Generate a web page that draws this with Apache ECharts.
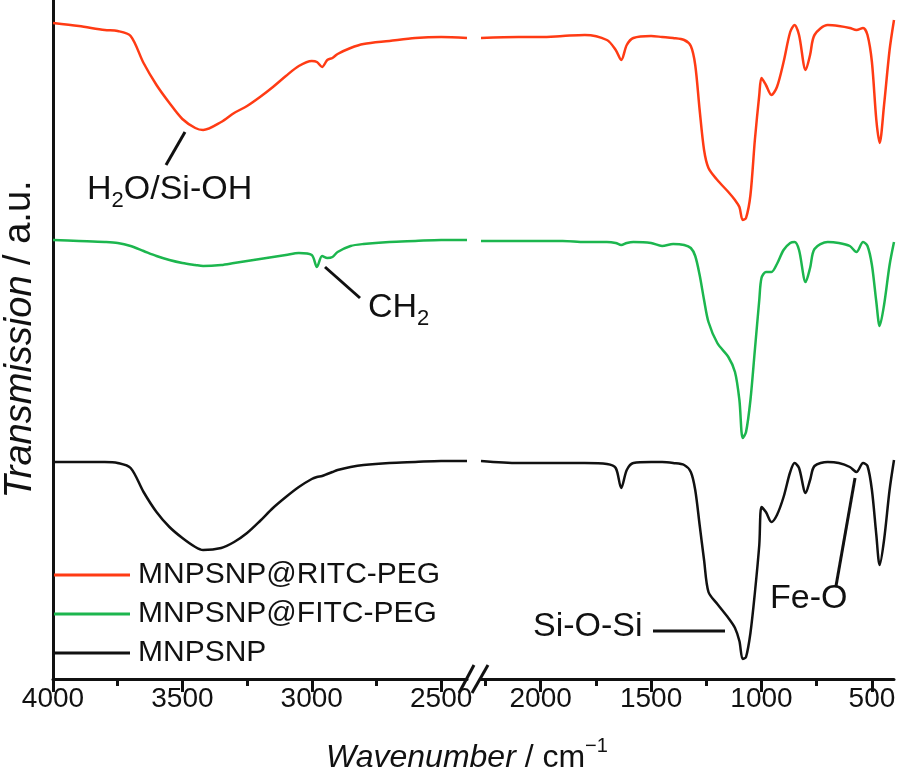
<!DOCTYPE html>
<html>
<head>
<meta charset="utf-8">
<title>FTIR spectra</title>
<script src="https://cdn.jsdelivr.net/npm/echarts@6/dist/echarts.min.js"></script>
<style>
  html, body { margin: 0; padding: 0; background: #fff; }
  #chart { width: 898px; height: 780px; }
</style>
</head>
<body>
<div id="chart"></div>
<script>
// wavenumbers (cm-1), 4000-2400 on the left part, 2270-400 after the axis break
var wavenumbers = [4000, 3900, 3800, 3750, 3700, 3650, 3600, 3550, 3500, 3450,
  3420, 3350, 3300, 3250, 3200, 3150, 3100, 3050, 3000, 2980,
  2960, 2940, 2920, 2900, 2850, 2800, 2700, 2600, 2500, 2400,
  2270, 2100, 2000, 1900, 1800, 1700, 1660, 1635, 1610, 1580,
  1500, 1450, 1400, 1350, 1320, 1300, 1280, 1260, 1240, 1200,
  1150, 1120, 1100, 1085, 1070, 1050, 1030, 1010, 1000, 980,
  955, 930, 900, 870, 850, 830, 800, 780, 760, 700,
  650, 600, 570, 540, 520, 500, 480, 465, 445, 420,
  400]

// transmission, a.u. (curves stacked with an offset)
var ritcPeg = [65.6, 65.3, 64.9, 64.8, 64.3, 61.6, 59.4, 57.6, 56.0, 55.1,
  54.9, 55.7, 56.6, 57.3, 58.2, 59.2, 60.3, 61.3, 61.8, 61.7,
  61.2, 61.9, 62.1, 62.5, 63.1, 63.5, 63.8, 64.1, 64.2, 64.1,
  64.1, 64.2, 64.2, 64.3, 64.4, 63.9, 62.9, 61.9, 63.4, 64.1,
  64.3, 64.2, 64.1, 63.9, 63.3, 61.4, 56.9, 52.9, 51.1, 49.9,
  48.7, 47.9, 47.2, 45.9, 46.1, 48.4, 53.9, 58.4, 60.1, 59.4,
  58.4, 59.2, 61.7, 64.7, 65.4, 64.4, 60.9, 62.4, 64.4, 65.4,
  65.3, 65.1, 64.9, 65.1, 64.4, 61.7, 55.9, 53.6, 57.4, 62.9,
  65.9]
var fitcPeg = [43.9, 43.8, 43.7, 43.6, 43.3, 42.8, 42.3, 41.9, 41.6, 41.4,
  41.3, 41.4, 41.6, 41.8, 42.0, 42.2, 42.4, 42.6, 42.4, 41.2,
  42.3, 42.1, 42.2, 42.7, 43.3, 43.5, 43.7, 43.8, 43.9, 43.9,
  43.8, 43.8, 43.8, 43.8, 43.7, 43.7, 43.6, 43.4, 43.6, 43.7,
  43.6, 43.3, 43.5, 43.4, 43.1, 42.3, 40.4, 37.9, 35.7, 33.6,
  32.2, 30.7, 27.9, 24.1, 24.7, 27.9, 32.9, 37.9, 40.1, 40.7,
  40.7, 41.5, 42.9, 43.6, 43.7, 42.9, 39.7, 41.1, 43.0, 43.7,
  43.6, 43.3, 42.7, 43.7, 43.3, 41.4, 37.7, 35.3, 37.4, 41.4,
  43.7]
var mnpsnp = [21.7, 21.7, 21.7, 21.6, 21.1, 18.7, 16.7, 15.2, 14.1, 13.2,
  12.9, 13.1, 13.7, 14.6, 15.8, 17.1, 18.2, 19.2, 20.0, 20.2,
  20.3, 20.5, 20.7, 20.9, 21.2, 21.4, 21.6, 21.7, 21.8, 21.8,
  21.8, 21.6, 21.6, 21.6, 21.6, 21.5, 21.1, 19.1, 20.9, 21.6,
  21.7, 21.7, 21.6, 21.4, 20.7, 18.9, 15.4, 11.9, 8.7, 7.5,
  6.1, 5.1, 3.8, 2.0, 2.2, 4.6, 8.6, 13.4, 17.2, 16.7,
  15.7, 16.4, 18.2, 20.7, 21.6, 21.1, 18.6, 19.9, 21.3, 21.7,
  21.6, 21.2, 20.7, 21.6, 21.3, 18.9, 14.4, 11.4, 13.9, 18.9,
  21.9]

var seriesNames = ['MNPSNP@RITC-PEG', 'MNPSNP@FITC-PEG', 'MNPSNP']
var leftMajor = [4000, 3500, 3000, 2500]
var leftMinor = [3750, 3250, 2750]
var rightMajor = [2000, 1500, 1000, 500]
var rightMinor = [2250, 1750, 1250, 750]

var font = 'Liberation Sans, Arial, Helvetica, sans-serif'
var ink = '#111111'
var colors = ['#ff3b14', '#1cb64e', '#111111']
var values = [ritcPeg, fitcPeg, mnpsnp]

function pairs(vals, keep) {
  var out = []
  for (var i = 0; i < wavenumbers.length; i++) {
    if (keep(wavenumbers[i])) out.push([wavenumbers[i], vals[i]])
  }
  return out
}

function majorAxis(grid, min, max, ticks) {
  return {
    type: 'value', gridIndex: grid, min: min, max: max, inverse: true, position: 'bottom',
    axisLine: { show: true, lineStyle: { color: ink, width: 3 } },
    axisTick: { show: true, customValues: ticks, length: 13, lineStyle: { color: ink, width: 3 } },
    axisLabel: {
      customValues: ticks, margin: 6, fontSize: 28, color: ink, fontFamily: font,
      formatter: function(v) { return String(v) }
    },
    splitLine: { show: false }
  }
}

function minorAxis(grid, min, max, ticks) {
  return {
    type: 'value', gridIndex: grid, min: min, max: max, inverse: true, position: 'bottom',
    axisLine: { show: false },
    axisTick: { show: true, customValues: ticks, length: 7, lineStyle: { color: ink, width: 3 } },
    axisLabel: { show: false },
    splitLine: { show: false }
  }
}

var series = []
seriesNames.forEach(function(name, k) {
  [0, 1].forEach(function(side) {
    series.push({
      name: name,
      type: 'line',
      xAxisIndex: side === 0 ? 0 : 2,
      yAxisIndex: side,
      data: pairs(values[k], side === 0
        ? function(w) { return w >= 2400 }
        : function(w) { return w <= 2270 }),
      symbol: 'none',
      smooth: 0.3,
      color: colors[k],
      lineStyle: { color: colors[k], width: 2.5 },
      z: 3 - k
    })
  })
})

function line(x1, y1, x2, y2) {
  return { type: 'line', shape: { x1: x1, y1: y1, x2: x2, y2: y2 }, style: { stroke: ink, lineWidth: 3 }, z: 10 }
}

function label(x, y, text) {
  return {
    type: 'text', x: x, y: y, z: 10,
    style: {
      text: text, fill: ink, textAlign: 'left', textVerticalAlign: 'middle',
      align: 'left', verticalAlign: 'middle',
      rich: {
        a: { fontSize: 34, lineHeight: 44, fontFamily: font },
        s: { fontSize: 22, lineHeight: 14, verticalAlign: 'bottom', fontFamily: font }
      }
    }
  }
}

var chart = echarts.init(document.getElementById('chart'))
chart.setOption({
  animation: false,
  textStyle: { fontFamily: font },
  grid: [
    { left: 53, top: 0, width: 414, bottom: 101, outerBoundsMode: 'none' },
    { left: 481, top: 0, width: 413, bottom: 101, outerBoundsMode: 'none' }
  ],
  legend: {
    data: seriesNames,
    orient: 'vertical',
    left: 54,
    top: 557,
    padding: 0,
    itemGap: 3,
    itemWidth: 76,
    itemHeight: 3,
    icon: 'rect',
    textStyle: { fontSize: 30, lineHeight: 36, color: ink, fontFamily: font, padding: [0, 0, 0, 3] }
  },
  xAxis: [
    majorAxis(0, 2400, 4000, leftMajor),
    minorAxis(0, 2400, 4000, leftMinor),
    majorAxis(1, 400, 2270, rightMajor),
    minorAxis(1, 400, 2270, rightMinor)
  ],
  yAxis: [
    {
      type: 'value', gridIndex: 0, min: 0, max: 67.9,
      axisLine: { show: true, lineStyle: { color: ink, width: 3 } },
      axisTick: { show: false }, axisLabel: { show: false }, splitLine: { show: false },
      name: '{i|Transmission}{n| / a.u.}',
      nameLocation: 'middle', nameGap: 14, nameRotate: 90,
      nameTextStyle: {
        rich: {
          i: { fontSize: 38, fontStyle: 'italic', color: ink, fontFamily: font },
          n: { fontSize: 38, color: ink, fontFamily: font }
        }
      }
    },
    { type: 'value', gridIndex: 1, min: 0, max: 67.9, show: false }
  ],
  graphic: [
    // axis break
    line(459, 693, 474, 665),
    line(472, 693, 488, 665),
    // peak annotations
    line(185, 132, 166, 165),
    label(87, 190, '{a|H}{s|2}{a|O/Si-OH}'),
    line(325, 267, 360, 298),
    label(368, 308, '{a|CH}{s|2}'),
    line(653, 631, 725, 631),
    label(533, 627, '{a|Si-O-Si}'),
    line(836, 586, 855, 478),
    label(770, 599, '{a|Fe-O}'),
    {
      type: 'text', x: 467, y: 758, z: 10,
      style: {
        text: '{i|Wavenumber}{n| / cm}{p|\u22121}', fill: ink,
        textAlign: 'center', textVerticalAlign: 'middle', align: 'center', verticalAlign: 'middle',
        rich: {
          i: { fontSize: 32, lineHeight: 44, fontStyle: 'italic', fontFamily: font },
          n: { fontSize: 32, lineHeight: 44, fontFamily: font },
          p: { fontSize: 20, lineHeight: 14, verticalAlign: 'top', fontFamily: font }
        }
      }
    }
  ],
  series: series
})
</script>
</body>
</html>
